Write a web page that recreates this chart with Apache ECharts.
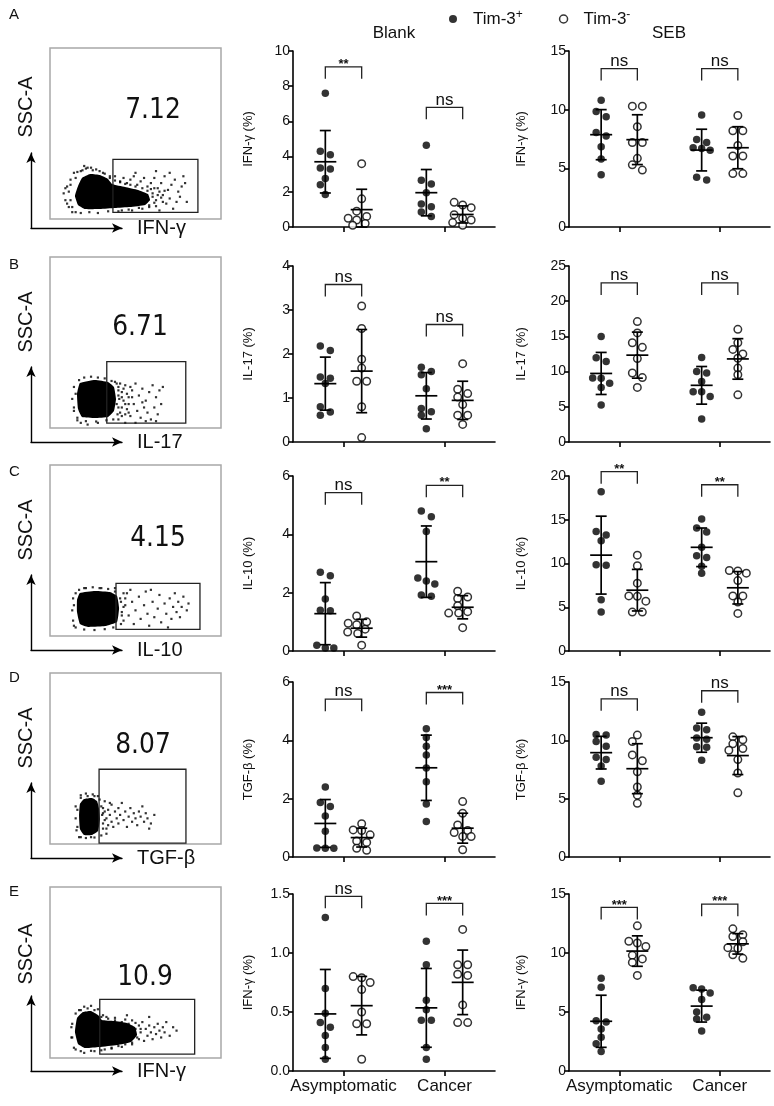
<!DOCTYPE html>
<html><head><meta charset="utf-8">
<script src="https://cdn.jsdelivr.net/npm/echarts@6/dist/echarts.min.js"></script>
<style>html,body{margin:0;padding:0;background:#fff}#c{width:774px;height:1106px}</style>
</head><body><div id="c"></div>
<script>
// ---------------- DATA ----------------
const panelLetters = ['A','B','C','D','E'];
const conditions = ['Blank','SEB'];
const groups = ['Asymptomatic','Cancer'];
const seriesNames = ['Tim-3+','Tim-3-'];
const yNames = ['IFN-γ (%)','IL-17 (%)','IL-10 (%)','TGF-β (%)','IFN-γ (%)'];
const blankMax = [10,4,6,6,1.5], blankStep = [2,1,2,2,0.5];
const sebMax = [15,25,20,15,15], sebStep = [5,5,5,5,5];

// each: [Asymptomatic values, Cancer values]
const A_blank_pos = [[7.6,4.3,4.1,3.35,3.3,2.75,2.4,1.85],[4.65,2.65,2.45,1.95,1.3,1.15,0.85,0.6]];
const A_blank_neg = [[3.6,1.6,0.9,0.6,0.5,0.4,0.2,0.1],[1.4,1.25,1.1,0.7,0.5,0.4,0.25,0.1]];
const A_seb_pos = [[10.8,9.85,9.4,8.05,7.75,6.85,5.8,4.45],[9.55,7.45,7.2,6.75,6.7,6.55,4.25,4.0]];
const A_seb_neg = [[10.3,10.3,8.55,7.2,7.2,5.85,5.3,4.85],[9.5,8.2,8.2,6.95,6.05,6.05,4.55,4.55]];

const B_blank_pos = [[2.18,2.08,1.48,1.45,1.33,0.8,0.68,0.61],[1.7,1.6,1.53,1.21,0.76,0.69,0.61,0.3]];
const B_blank_neg = [[3.09,2.58,1.88,1.68,1.38,1.38,0.8,0.1],[1.78,1.2,1.1,1.02,0.85,0.61,0.61,0.4]];
const B_seb_pos = [[15.0,11.95,11.45,9.1,9.05,8.35,7.75,5.25],[12.0,10.0,9.8,8.6,7.15,7.15,6.45,3.25]];
const B_seb_neg = [[17.1,15.5,14.1,13.45,11.85,9.8,9.15,7.75],[16.0,14.1,13.15,12.5,11.9,10.5,9.55,6.7]];

const C_blank_pos = [[2.7,2.58,1.78,1.4,1.38,0.2,0.1,0.1],[4.8,4.6,4.1,2.5,2.4,2.3,1.92,1.88]];
const C_blank_neg = [[1.2,1.0,0.95,0.9,0.75,0.65,0.6,0.2],[2.05,1.85,1.8,1.55,1.35,1.3,1.3,0.8]];
const C_seb_pos = [[18.2,13.65,13.25,12.6,9.85,9.8,5.85,4.45],[15.1,14.05,13.6,11.85,10.9,10.7,9.7,8.9]];
const C_seb_neg = [[10.95,9.75,7.75,6.3,6.25,5.7,4.45,4.45],[9.2,9.15,8.9,8.05,6.3,6.3,5.6,4.3]];

const D_blank_pos = [[2.4,1.87,1.73,1.41,0.88,0.31,0.3,0.3],[4.4,4.1,3.8,3.5,3.05,2.58,1.82,1.22]];
const D_blank_neg = [[1.14,0.93,0.91,0.76,0.55,0.5,0.3,0.23],[1.9,1.5,1.1,0.91,0.84,0.7,0.7,0.25]];
const D_seb_pos = [[10.5,10.45,9.9,9.5,8.55,8.35,7.8,6.5],[12.4,11.05,10.9,10.2,10.1,9.45,9.4,8.3]];
const D_seb_neg = [[10.45,9.9,8.75,8.25,7.3,6.0,5.3,4.6],[10.3,10.05,9.7,9.3,9.15,8.35,7.2,5.5]];

const E_blank_pos = [[1.3,0.7,0.49,0.41,0.37,0.3,0.2,0.1],[1.1,0.9,0.6,0.52,0.43,0.43,0.2,0.1]];
const E_blank_neg = [[0.8,0.79,0.75,0.69,0.5,0.4,0.4,0.1],[1.2,0.9,0.9,0.82,0.81,0.56,0.41,0.41]];
const E_seb_pos = [[7.85,7.1,4.25,4.15,3.55,2.85,2.3,1.65],[7.05,6.95,6.6,6.05,5.0,4.55,4.4,3.4]];
const E_seb_neg = [[12.3,11.0,10.85,10.55,9.8,9.5,9.2,8.1],[12.05,11.55,11.4,10.95,10.45,10.4,9.85,9.55]];

// significance labels and bracket heights (data units)
const blankSig = [['**','ns'],['ns','ns'],['ns','**'],['ns','***'],['ns','***']];
const sebSig = [['ns','ns'],['ns','ns'],['**','**'],['ns','ns'],['***','***']];
const blankBracket = [[9.1,6.8],[3.58,2.67],[5.43,5.68],[5.41,5.64],[1.48,1.42]];
const sebBracket = [[13.5,13.5],[22.6,22.6],[20.5,19.0],[13.56,14.25],[13.86,14.14]];

// flow cytometry panels (units 0-100 inside each plot frame)
const flowMarker = ['IFN-γ','IL-17','IL-10','TGF-β','IFN-γ'];
const flowPct = ['7.12','6.71','4.15','8.07','10.9'];
const flowGate = [[36.8,3.9,86.5,34.9],[33.2,2.9,79.4,38.8],[38.6,3.9,87.7,30.8],[28.7,0.5,79.5,43.7],[29.1,2.3,84.6,34.3]];
const A_core = [[16.4,19.3],[18.7,24.0],[23.4,26.3],[29.2,25.7],[33.9,23.4],[36.3,20.5],[43.9,18.7],[51.5,17.0],[57.3,14.6],[58.5,11.1],[55.6,8.2],[46.8,7.0],[38.0,6.4],[29.2,5.8],[20.5,5.8],[16.4,8.2],[14.6,13.5]];
const B_core = [[17.5,26.3],[26.3,28.1],[33.9,26.9],[37.4,24.0],[38.6,17.0],[37.4,9.9],[33.9,6.4],[26.3,5.8],[18.7,6.4],[16.4,11.1],[15.8,19.9]];
const C_core = [[17.5,25.1],[26.3,26.3],[35.1,25.7],[39.2,23.4],[40.4,16.4],[39.2,8.2],[32.2,5.8],[22.2,5.3],[17.5,7.0],[15.8,14.0],[15.8,21.1]];
const D_core = [[19.9,26.3],[24.6,26.9],[27.5,25.1],[28.7,20.5],[29.2,14.6],[28.1,7.6],[24.6,5.3],[19.9,5.3],[17.5,8.8],[17.0,16.4],[17.5,23.4]];
const E_core = [[15.8,23.4],[19.3,26.9],[24.0,27.5],[28.1,25.1],[30.4,22.2],[37.4,21.6],[45.0,20.5],[49.7,18.1],[50.9,13.5],[47.4,9.4],[39.2,7.6],[28.7,6.4],[20.5,5.8],[16.4,8.2],[14.6,15.2]];
const A_dots = [[8,15],[9,11],[10,19],[11,7],[12,23],[13,4],[14,27],[18,28],[22,30],[27,29],[31,27],[35,24],[38,25],[41,22],[43,24],[45,21],[47,23],[49,25],[51,20],[53,22],[55,24],[57,19],[59,21],[61,24],[63,18],[65,21],[67,25],[69,17],[71,20],[73,23],[75,16],[77,19],[79,21],[66,14],[70,12],[74,10],[68,9],[62,11],[58,8],[54,6],[48,5],[42,5],[64,5],[72,6],[76,13],[60,15],[56,13],[80,10],[78,25],[70,27],[62,28],[50,27],[64,16],[66,10],
  [15,24],[16,27.5],[19,28.5],[21,29.5],[25,28.5],[29,28],[32,26.5],[35,25],[12,20],[11,16],[12,11],[13,7],[15,4],[18,3.5],[23,4],[28,3.5],[34,4.5],[40,4.5],[46,5.5],[52,6.5],[38,22.5],[41,21.5],[44,20.5],[47,20],[50,19],[54,18],[57,16.5],[60,13],[61,9.5],[58,7],[24,30],[20,31],[9,18],[10,9],[61,18],[63,14],[59,17.5],[62,7.5],[65,12.5],[67,16.5]];
const B_dots = [[14,12],[15,20],[16,6],[18,3],[22,2],[28,3],[38,27],[40,24],[42,21],[44,25],[46,18],[48,22],[50,26],[52,19],[54,23],[56,16],[58,21],[60,25],[62,18],[64,22],[39,14],[41,9],[43,16],[45,11],[47,7],[49,14],[51,10],[53,6],[55,12],[57,9],[59,5],[61,12],[63,8],[40,5],[44,3],[50,3],[56,4],[62,4],[65,14],[66,24],[40,19],[42,12],[48,18],[54,15],[41,26],[44,8],[46,14],
  [17,28],[20,29.5],[24,30],[28,29.5],[32,29],[36,27.5],[14,24],[13,17],[14,10],[16,4.5],[21,4],[27,3.8],[33,4.5],[39,26],[40,22],[40.5,17],[40,12],[39.5,8],[37,5],[42,18],[43,23],[42,7],[44,14],[45,20],[46,9],[47,24]];
const C_dots = [[41,22],[42,14],[43,9],[44,18],[45,25],[46,12],[48,20],[49,7],[50,15],[52,23],[53,10],[55,18],[56,26],[57,13],[58,6],[60,20],[61,11],[63,16],[64,24],[65,8],[67,19],[68,13],[70,22],[71,10],[72,17],[73,25],[74,14],[75,20],[76,11],[77,17],[78,23],[80,15],[81,19],[47,27],[59,27],[69,5],[14,6],[14,18],[15,25],[20,28],[30,28],[38,28],
  [17,27],[21,28],[25,28.5],[29,28],[34,27.5],[38,26],[13.5,22],[13,15],[13.5,9],[15,5],[20,3.8],[26,3.5],[32,4],[37,5],[41.5,20],[42,12],[41.5,7],[43,25],[43,17],[44,22]];
const D_dots = [[30,22],[31,18],[31,12],[32,25],[33,15],[33,9],[34,20],[35,17],[36,13],[36,23],[37,10],[38,19],[39,15],[40,21],[40,12],[41,17],[42,24],[43,14],[44,19],[45,10],[46,16],[47,21],[48,13],[49,18],[50,15],[51,11],[52,19],[53,16],[55,13],[56,18],[57,15],[59,12],[61,17],[54,22],[58,9],[16,10],[16,20],[18,27],[22,28],[26,28],[29,26],[18,4],[24,4],
  [18,28.5],[21,29.5],[25,29],[28,28],[15,22],[15,15],[15.5,8],[17,4],[21,3.5],[26,3.8],[30,5],[30.5,17],[31,21],[31,9],[32,14],[32,19],[34,11],[35,24],[33,6]];
const E_dots = [[13,12],[13,20],[15,26],[18,28],[22,29],[26,28],[30,24],[34,23],[38,22],[42,21],[46,20],[48,22],[50,17],[51,12],[52,19],[53,15],[54,21],[55,10],[56,17],[57,13],[58,19],[59,15],[60,11],[61,18],[62,14],[63,20],[64,16],[65,12],[66,18],[67,15],[68,21],[48,9],[44,8],[40,7],[36,6],[32,5],[70,13],[72,18],[74,16],[58,24],[45,25],[15,5],[20,3],[26,4],
  [17,28],[20,30],[24,30.5],[28,28.5],[31,25],[12.5,18],[12.5,12],[14,6],[18,4],[24,4.2],[30,4.5],[36,5.5],[42,6.5],[48,8],[52,11],[53,17],[50,20.5],[44,22.5],[38,23.5],[33,24]];

const blankPos = [A_blank_pos,B_blank_pos,C_blank_pos,D_blank_pos,E_blank_pos];
const blankNeg = [A_blank_neg,B_blank_neg,C_blank_neg,D_blank_neg,E_blank_neg];
const sebPos = [A_seb_pos,B_seb_pos,C_seb_pos,D_seb_pos,E_seb_pos];
const sebNeg = [A_seb_neg,B_seb_neg,C_seb_neg,D_seb_neg,E_seb_neg];
const flowCore = [A_core,B_core,C_core,D_core,E_core];
const flowDots = [A_dots,B_dots,C_dots,D_dots,E_dots];

// ---------------- LAYOUT ----------------
const FONT = '"Liberation Sans", Arial, sans-serif';
const BLANK_LEFT = 293, BLANK_W = 202, SEB_LEFT = 569, SEB_W = 201;
const ROW_TOP = [51, 266, 476, 682, 894], ROW_H = [176, 176, 175, 175, 177];
const FLOW_LEFT = 50, FLOW_SIZE = 171, FLOW_TOP = [48, 257, 465, 673, 887];
const ARROW_CORNER = [228, 442, 650, 858, 1071];
const PCT_POS = [[153,110],[140,327],[158,538],[143,745],[145,977]];
const SSC_Y = [107, 322, 530, 738, 954];
const LETTER_Y = [15, 265, 472, 678, 892];
const GROUP_OFF = 0.36;

const grid = [], xAxis = [], yAxis = [], series = [], graphic = [];
const AX = {color:'#000', width:1.6};

function stats(a){const m=a.reduce((s,v)=>s+v,0)/a.length;const sd=Math.sqrt(a.reduce((s,v)=>s+(v-m)*(v-m),0)/(a.length-1));return [m,sd];}

function swarm(vals, ppy){
  const order = vals.map((v,i)=>i).sort((a,b)=>vals[b]-vals[a]);
  const rows=[];
  order.forEach(i=>{const r=rows[rows.length-1]; if(r && (vals[r[0]]-vals[i])*ppy<6) r.push(i); else rows.push([i]);});
  const off=[], placed=[];
  rows.forEach(row=>{
    const n=row.length, d=n===2?10:8.5;
    const base=row.map((i,k)=>(k-(n-1)/2)*d);
    let best=base;
    for(const s of [0,-5,5,-9,9]){
      const cand=base.map(b=>b+s);
      const ok=row.every((i,k)=>placed.every(p=>Math.hypot(p.x-cand[k],(p.v-vals[i])*ppy)>=6.5));
      if(ok){best=cand;break;}
    }
    row.forEach((i,k)=>{off[i]=best[k];placed.push({x:best[k],v:vals[i]});});
  });
  return off;
}

function meanSdRender(p, api){
  const x=api.value(0), m=api.value(1), s=api.value(2);
  const c=api.coord([x,m]), t=api.coord([x,m+s]), b=api.coord([x,Math.max(0,m-s)]);
  const ls={stroke:'#000', lineWidth:1.7};
  return {type:'group', children:[
    {type:'line', shape:{x1:c[0]-11,y1:c[1],x2:c[0]+11,y2:c[1]}, style:ls},
    {type:'line', shape:{x1:t[0],y1:t[1],x2:b[0],y2:b[1]}, style:ls},
    {type:'line', shape:{x1:t[0]-5.5,y1:t[1],x2:t[0]+5.5,y2:t[1]}, style:ls},
    {type:'line', shape:{x1:b[0]-5.5,y1:b[1],x2:b[0]+5.5,y2:b[1]}, style:ls}
  ]};
}

function bracketRender(label){
  return function(p, api){
    const a=api.coord([api.value(0),api.value(2)]), b=api.coord([api.value(1),api.value(2)]);
    const star=label.indexOf('*')>=0;
    return {type:'group', children:[
      {type:'polyline', shape:{points:[[a[0],a[1]+12],[a[0],a[1]],[b[0],b[1]],[b[0],b[1]+12]]}, style:{stroke:'#222', lineWidth:1.3, fill:null}},
      {type:'text', style:{text:label, x:(a[0]+b[0])/2, y: star ? a[1]+4 : a[1]+1, align:'center', verticalAlign:'bottom', font: star ? 'bold 13px '+FONT : '17px '+FONT, fill:'#111'}}
    ]};
  };
}

function dotPanel(r, c){
  const left=c?SEB_LEFT:BLANK_LEFT, width=c?SEB_W:BLANK_W, top=ROW_TOP[r], height=ROW_H[r];
  const ymax=c?sebMax[r]:blankMax[r], ystep=c?sebStep[r]:blankStep[r];
  const gi=grid.length;
  grid.push({left, top, width, height});
  xAxis.push({gridIndex:gi, type:'value', min:0, max:4, interval:1,
    axisLine:{show:true, onZero:false, lineStyle:AX},
    axisTick:{show:true, customValues:[1,3], length:5, lineStyle:AX},
    axisLabel:{show:r===4, customValues:[1,3], formatter:v=>groups[v<2?0:1], fontSize:17, color:'#111', margin:7, fontFamily:FONT},
    splitLine:{show:false}});
  yAxis.push({gridIndex:gi, type:'value', min:0, max:ymax, interval:ystep,
    axisLine:{show:true, lineStyle:AX},
    axisTick:{show:true, length:5, lineStyle:AX},
    axisLabel:{fontSize:14, color:'#111', margin:3, fontFamily:FONT, formatter: (r===4&&c===0) ? (v=>v.toFixed(1)) : (v=>String(v))},
    splitLine:{show:false},
    name:yNames[r], nameLocation:'middle', nameRotate:90, nameGap:c?41:38,
    nameTextStyle:{fontSize:13, color:'#111', fontFamily:FONT}});
  const ppy=height/ymax, ppx=width/4;
  const pos=c?sebPos[r]:blankPos[r], neg=c?sebNeg[r]:blankNeg[r];
  const sig=c?sebSig[r]:blankSig[r], br=c?sebBracket[r]:blankBracket[r];
  [0,1].forEach(g=>{
    const center=g===0?1:3;
    [[pos[g],-GROUP_OFF,seriesNames[0],true],[neg[g],GROUP_OFF,seriesNames[1],false]].forEach(([vals,off,name,filled])=>{
      const jit=swarm(vals,ppy);
      series.push({type:'scatter', name, xAxisIndex:gi, yAxisIndex:gi, clip:false, silent:true, symbol:'circle',
        symbolSize: filled?7.5:7.5,
        itemStyle: filled?{color:'#000'}:{color:'#fff', borderColor:'#000', borderWidth:1.5},
        data: vals.map((v,i)=>[center+off+jit[i]/ppx, v]), z:3});
      const st=stats(vals);
      series.push({type:'custom', xAxisIndex:gi, yAxisIndex:gi, clip:false, silent:true, z:4,
        data:[[center+off, st[0], st[1]]], renderItem:meanSdRender});
    });
    series.push({type:'custom', xAxisIndex:gi, yAxisIndex:gi, clip:false, silent:true, z:4,
      data:[[center-GROUP_OFF, center+GROUP_OFF, br[g]]], renderItem:bracketRender(sig[g])});
  });
}

function flowPanel(r){
  const gi=grid.length;
  grid.push({left:FLOW_LEFT, top:FLOW_TOP[r], width:FLOW_SIZE, height:FLOW_SIZE, show:true, borderColor:'#a8a8a8', borderWidth:1.5, backgroundColor:'transparent'});
  xAxis.push({gridIndex:gi, type:'value', min:0, max:100, show:false});
  yAxis.push({gridIndex:gi, type:'value', min:0, max:100, show:false});
  const core=flowCore[r];
  series.push({type:'custom', xAxisIndex:gi, yAxisIndex:gi, silent:true, z:2, data:[core[0]],
    renderItem:(p,api)=>({type:'polygon', shape:{points:core.map(q=>api.coord(q)), smooth:0.12}, style:{fill:'#000'}})});
  series.push({type:'scatter', xAxisIndex:gi, yAxisIndex:gi, silent:true, symbol:'rect', symbolSize:2.2, itemStyle:{color:'#000'}, data:flowDots[r], z:2});
  series.push({type:'custom', xAxisIndex:gi, yAxisIndex:gi, silent:true, z:3, data:[flowGate[r]], encode:{x:[0,2], y:[1,3]},
    renderItem:(p,api)=>{const a=api.coord([api.value(0),api.value(3)]), b=api.coord([api.value(2),api.value(1)]);
      return {type:'rect', shape:{x:a[0],y:a[1],width:b[0]-a[0],height:b[1]-a[1]}, style:{fill:null, stroke:'#222', lineWidth:1.3}};}});
  // arrows (axis lines)
  const ai=grid.length;
  grid.push({left:31, top:ARROW_CORNER[r]-75, width:91, height:75});
  xAxis.push({gridIndex:ai, type:'value', min:0, max:1,
    axisLine:{show:true, symbol:['none','arrow'], symbolSize:[7,10], lineStyle:{color:'#000', width:1.4}},
    axisTick:{show:false}, axisLabel:{show:false}, splitLine:{show:false},
    name:flowMarker[r], nameLocation:'end', nameGap:15,
    nameTextStyle:{fontSize:20, color:'#111', fontFamily:FONT, verticalAlign:'middle', align:'left'}});
  yAxis.push({gridIndex:ai, type:'value', min:0, max:1,
    axisLine:{show:true, symbol:['none','arrow'], symbolSize:[7,10], lineStyle:{color:'#000', width:1.4}},
    axisTick:{show:false}, axisLabel:{show:false}, splitLine:{show:false}});
  graphic.push({type:'text', x:26, y:SSC_Y[r], rotation:Math.PI/2,
    style:{text:'SSC-A', font:'20px '+FONT, fill:'#111', align:'center', verticalAlign:'middle', textAlign:'center', textVerticalAlign:'middle'}});
  graphic.push({type:'text', x:PCT_POS[r][0], y:PCT_POS[r][1], scaleX:0.86,
    style:{text:flowPct[r], font:'29px "DejaVu Sans", sans-serif', fill:'#111', align:'center', verticalAlign:'middle', textAlign:'center', textVerticalAlign:'middle'}});
  graphic.push({type:'text', x:9, y:LETTER_Y[r],
    style:{text:panelLetters[r], font:'15px '+FONT, fill:'#111', align:'left', verticalAlign:'middle', textAlign:'left', textVerticalAlign:'middle'}});
}

for(let r=0;r<5;r++){ flowPanel(r); dotPanel(r,0); dotPanel(r,1); }

graphic.push({type:'text', x:394, y:33, style:{text:conditions[0], font:'17px '+FONT, fill:'#111', align:'center', verticalAlign:'middle', textAlign:'center', textVerticalAlign:'middle'}});
graphic.push({type:'text', x:669, y:33, style:{text:conditions[1], font:'17px '+FONT, fill:'#111', align:'center', verticalAlign:'middle', textAlign:'center', textVerticalAlign:'middle'}});

const option = {
  animation:false, backgroundColor:'#fff',
  textStyle:{fontFamily:FONT},
  legend:{
    left:444, top:4, itemWidth:30, itemHeight:8, itemGap:36, selectedMode:false,
    data:[
      {name:seriesNames[0], icon:'circle', itemStyle:{color:'#000', borderWidth:0}},
      {name:seriesNames[1], icon:'circle', itemStyle:{color:'#fff', borderColor:'#000', borderWidth:1.5}}
    ],
    formatter: n => '{n|Tim-3}{s|' + (n===seriesNames[0] ? '+' : '-') + '}',
    textStyle:{fontFamily:FONT, color:'#111', rich:{n:{fontSize:17, lineHeight:20, fontFamily:FONT, color:'#111'}, s:{fontSize:12, lineHeight:12, verticalAlign:'top', fontFamily:FONT, color:'#111'}}}
  },
  grid, xAxis, yAxis, series, graphic
};
const chart = echarts.init(document.getElementById('c'), null, {renderer:'canvas'});
chart.setOption(option);
</script></body></html>
